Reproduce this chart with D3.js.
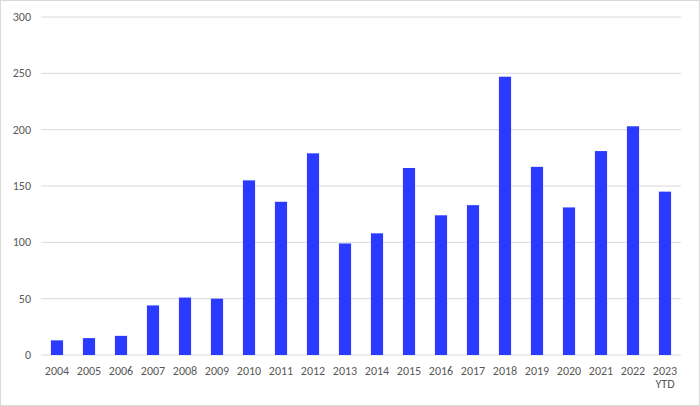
<!DOCTYPE html>
<html><head><meta charset="utf-8">
<script src="https://cdn.jsdelivr.net/npm/d3@7"></script>
<style>body{margin:0;background:#fff}text{font-family:Carlito,Calibri,"Liberation Sans",sans-serif}</style>
</head><body><svg id="c" width="700" height="406"></svg>
<script>
const categories=["2004","2005","2006","2007","2008","2009","2010","2011","2012","2013","2014","2015","2016","2017","2018","2019","2020","2021","2022","2023\nYTD"];
const values=[13,15,17,44,51,50,155,136,179,99,108,166,124,133,247,167,131,181,203,145];
const yTicks=[0,50,100,150,200,250,300];
const svg=d3.select("#c");
svg.append("rect").attr("x",0.5).attr("y",0.5).attr("width",699).attr("height",405).attr("fill","#fff").attr("stroke","#d9d9d9");
const x=d3.scaleBand().domain(categories).range([41,681]).paddingInner(0.62).paddingOuter(0.31);
const y=d3.scaleLinear().domain([0,300]).range([355,17]);
svg.append("g").selectAll("line").data(yTicks).join("line")
 .attr("x1",41).attr("x2",681).attr("y1",d=>y(d)).attr("y2",d=>y(d)).attr("stroke","#d9d9d9");
svg.append("g").selectAll("text").data(yTicks).join("text")
 .attr("x",31).attr("y",d=>y(d)+4).attr("text-anchor","end").attr("font-size",12).attr("fill","#595959").text(d=>d);
svg.append("g").selectAll("rect").data(values).join("rect")
 .attr("x",(d,i)=>x(categories[i])).attr("width",x.bandwidth())
 .attr("y",d=>y(d)).attr("height",d=>y(0)-y(d)).attr("fill","#2a3bff");
const xl=svg.append("g").selectAll("text").data(categories).join("text")
 .attr("x",d=>x(d)+x.bandwidth()/2).attr("y",375).attr("text-anchor","middle").attr("font-size",12).attr("fill","#595959");
xl.each(function(d){const t=d3.select(this);d.split("\n").forEach((s,i)=>t.append("tspan").attr("x",x(d)+x.bandwidth()/2).attr("dy",i?13:0).text(s));});
</script></body></html>
